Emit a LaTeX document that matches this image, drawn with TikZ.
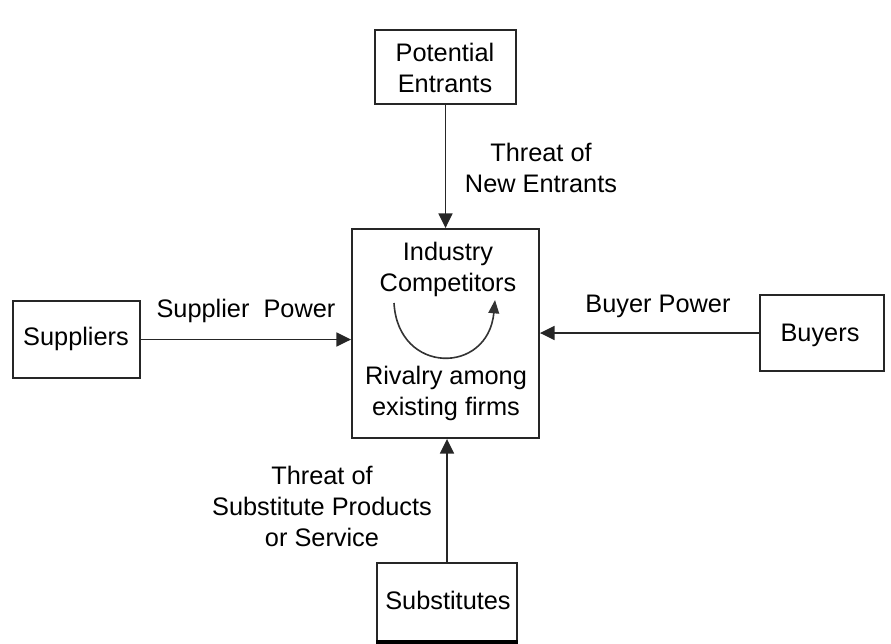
\documentclass[tikz,border=0pt]{standalone}
\usepackage{fontspec}
\setmainfont{Liberation Sans}
\usetikzlibrary{arrows.meta}
\begin{document}
\begin{tikzpicture}[x=0.75pt,y=-0.75pt,
  every node/.style={font=\fontsize{19}{23.3}\selectfont, inner sep=0pt, align=center},
  box/.style={draw=black!85, line width=1.4pt, rectangle, inner sep=0pt},
  conn/.style={draw=black!85, line width=1.3pt, -{Triangle[length=11pt,width=10.5pt]}}]
\useasboundingbox (0,0) rectangle (891,643);
% boxes
\node[box, minimum width=141*0.75pt, minimum height=74*0.75pt] (pe) at (445.5,67) {};
\node[box, minimum width=187*0.75pt, minimum height=209*0.75pt] (ic) at (445.5,333.5) {};
\node[box, minimum width=127*0.75pt, minimum height=77*0.75pt] (sup) at (76.5,339.5) {};
\node[box, minimum width=124*0.75pt, minimum height=76*0.75pt] (buy) at (822,333) {};
\node[box, minimum width=140*0.75pt, minimum height=78*0.75pt] (sub) at (447,602) {};
\draw[line width=2.4pt, draw=black] (sub.south west) -- (sub.south east);
% box texts
\node (pet) at (445,68) {Potential\\Entrants};
\node (ict) at (448,269.5) {Industry\\Competitors};
\node (icr) at (446,393.5) {Rivalry among\\existing firms};
\node (supt) at (76,339) {Suppliers};
\node (buyt) at (820,335.5) {Buyers};
\node (subt) at (448,600) {Substitutes};
% labels
\node (l1) at (541,168) {Threat of\\New Entrants};
\node (l2) at (246,311) {Supplier\ \ Power};
\node (l3) at (658,306) {Buyer Power};
\node (l4) at (322,506.5) {Threat of\\Substitute Products\\or Service};
% connectors
\draw[conn] (pe.south) -- (pe.south |- ic.north);
\draw[conn] (sup.east) -- (sup.east -| ic.west);
\draw[conn] (buy.west) -- (buy.west -| ic.east);
\draw[conn] (sub.north) -- (sub.north |- ic.south);
% rivalry curve
\coordinate (c1) at (394,303);
\coordinate (c2) at (495,300);
\draw[line width=1.2pt, draw=black!80, -{Triangle[length=10pt,width=8pt]}]
  (c1) .. controls (398,375) and (488,375) .. (c2);
\end{tikzpicture}
\end{document}
